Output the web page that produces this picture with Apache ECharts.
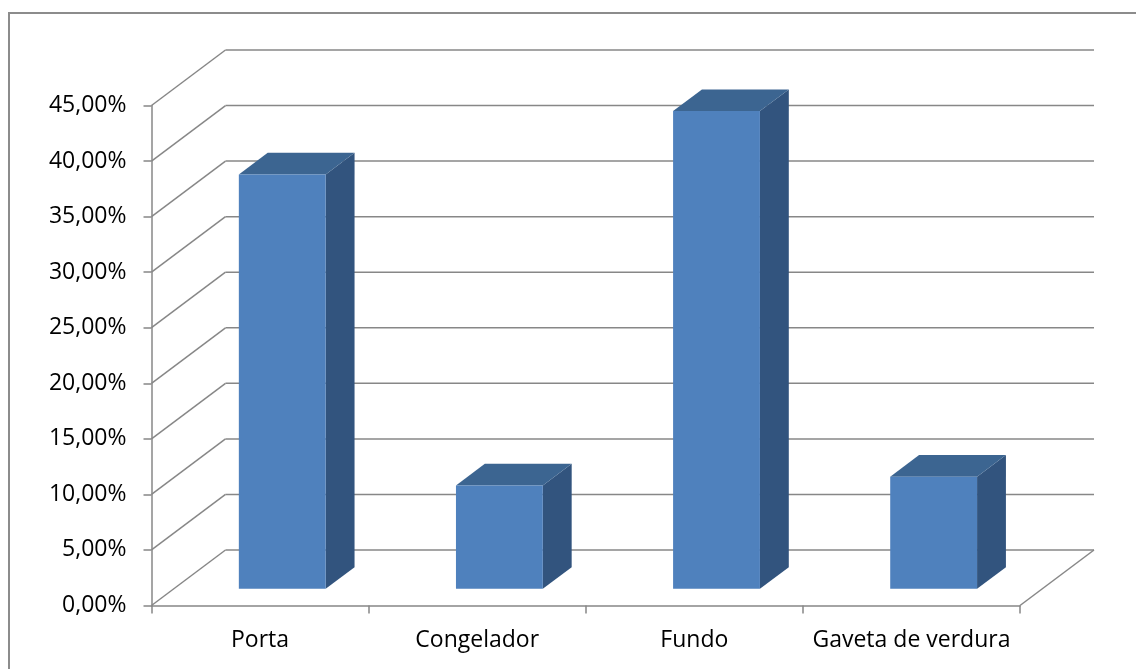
<!DOCTYPE html>
<html>
<head>
<meta charset="utf-8">
<title>Localização na geladeira</title>
<script src="https://cdn.jsdelivr.net/npm/echarts@6/dist/echarts.min.js"></script>
<style>
  html, body { margin: 0; padding: 0; background: #ffffff; }
  #chart { width: 1136px; height: 669px; }
</style>
</head>
<body>
<div id="chart"></div>
<script>
// Categories and values (percent)
const categories = ['Porta', 'Congelador', 'Fundo', 'Gaveta de verdura'];
const values = [37.3, 9.3, 43.0, 10.1];
// Value-axis ticks (percent)
const yTicks = [0, 5, 10, 15, 20, 25, 30, 35, 40, 45];

// 3D projection of the floor depth, in pixels
const DEPTH_X = 74;
const DEPTH_Y = -55.5;
// Bar placement inside the depth and across the category band
const BAR_D0 = 0.3;
const BAR_D1 = 0.69;
const BAR_W = 0.4;

const GRID_COLOR = '#878787';
const FRONT = '#4f81bd';
const SIDE = '#32547e';
const TOP = '#3c6591';
const FONT = '"Open Sans", "Noto Sans", sans-serif';

const chart = echarts.init(document.getElementById('chart'), null, { renderer: 'canvas' });

// Back wall, left wall and floor edges
function renderWalls(params, api) {
  const cs = params.coordSys;
  const v = api.value(0);
  const y = api.coord([0, v])[1];
  const x0 = cs.x;
  const x1 = cs.x + cs.width;
  const style = { stroke: GRID_COLOR, lineWidth: 1.5, fill: null };
  const children = [
    { type: 'line', shape: { x1: x0, y1: y, x2: x0 + DEPTH_X, y2: y + DEPTH_Y }, style },
    { type: 'line', shape: { x1: x0 + DEPTH_X, y1: y + DEPTH_Y, x2: x1 + DEPTH_X, y2: y + DEPTH_Y }, style }
  ];
  if (params.dataIndex === 0) {
    children.push({ type: 'line', shape: { x1: x1, y1: y, x2: x1 + DEPTH_X, y2: y + DEPTH_Y }, style });
  }
  return { type: 'group', children };
}

// Box-shaped bar: front face, right side face and top face
function renderBar(params, api) {
  const idx = api.value(0);
  const v = api.value(1);
  const base = api.coord([idx, 0]);
  const top = api.coord([idx, v]);
  const bandW = api.size([1, 0])[0];
  const w = bandW * BAR_W;
  const ox = BAR_D0 * DEPTH_X, oy = BAR_D0 * DEPTH_Y;
  const dx = (BAR_D1 - BAR_D0) * DEPTH_X, dy = (BAR_D1 - BAR_D0) * DEPTH_Y;
  const xl = base[0] - w / 2 + ox;
  const xr = base[0] + w / 2 + ox;
  const yb = base[1] + oy;
  const yt = top[1] + oy;
  return {
    type: 'group',
    children: [
      { type: 'polygon', shape: { points: [[xr, yb], [xr + dx, yb + dy], [xr + dx, yt + dy], [xr, yt]] },
        style: { fill: SIDE } },
      { type: 'polygon', shape: { points: [[xl, yt], [xr, yt], [xr + dx, yt + dy], [xl + dx, yt + dy]] },
        style: { fill: TOP } },
      { type: 'rect', shape: { x: xl, y: yt, width: xr - xl, height: yb - yt },
        style: { fill: FRONT } }
    ]
  };
}

const option = {
  backgroundColor: '#ffffff',
  animation: false,
  graphic: [
    { type: 'rect', silent: true, z: -10,
      shape: { x: 9, y: 13, width: 1300, height: 800 },
      style: { fill: null, stroke: '#8c8c8c', lineWidth: 2 } }
  ],
  grid: { left: 151.5, right: 116, top: 105.5, bottom: 63.5, containLabel: false },
  xAxis: {
    type: 'category',
    data: categories,
    boundaryGap: true,
    axisLine: { show: true, lineStyle: { color: GRID_COLOR, width: 1.5 } },
    axisTick: { show: true, length: 8, interval: 0, lineStyle: { color: GRID_COLOR, width: 1.5 } },
    axisLabel: { interval: 0, margin: 23, color: '#000', fontFamily: FONT, fontSize: 23 },
    splitLine: { show: false }
  },
  yAxis: {
    type: 'value',
    min: 0,
    max: 45,
    interval: 5,
    axisLine: { show: true, lineStyle: { color: GRID_COLOR, width: 1.5 } },
    axisTick: { show: true, length: 8, lineStyle: { color: GRID_COLOR, width: 1.5 } },
    axisLabel: {
      margin: 25, color: '#000', fontFamily: FONT, fontSize: 23,
      formatter: (val) => val.toFixed(2).replace('.', ',') + '%'
    },
    splitLine: { show: false }
  },
  series: [
    {
      type: 'custom',
      name: 'walls',
      clip: false,
      silent: true,
      z: 1,
      data: yTicks.map(t => [t]),
      encode: { y: 0 },
      renderItem: renderWalls
    },
    {
      type: 'custom',
      name: 'valores',
      clip: false,
      z: 2,
      data: values.map((v, i) => [i, v]),
      encode: { x: 0, y: 1 },
      renderItem: renderBar
    }
  ]
};

chart.setOption(option);
</script>
</body>
</html>
